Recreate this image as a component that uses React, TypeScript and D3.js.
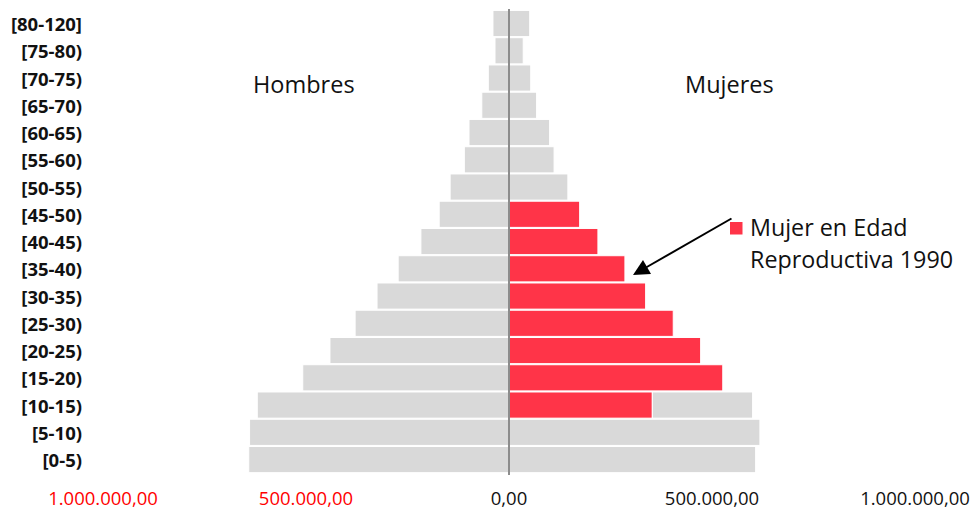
import React from "react";
import * as d3 from "d3";

const categories = [
  "[0-5)", "[5-10)", "[10-15)", "[15-20)", "[20-25)", "[25-30)", "[30-35)", "[35-40)",
  "[40-45)", "[45-50)", "[50-55)", "[55-60)", "[60-65)", "[65-70)", "[70-75)", "[75-80)", "[80-120]",
];
const men = [641000, 639000, 620000, 508000, 441000, 379000, 325000, 273000, 217000, 172000, 145000, 110000, 98500, 67000, 51000, 34500, 39500];
const women = [607500, 618000, 600000, 526500, 472000, 404500, 336500, 285500, 219000, 174000, 145000, 111000, 100000, 68000, 53500, 35000, 51000];
const womenReproductive = [0, 0, 353000, 526500, 472000, 404500, 336500, 285500, 219000, 174000, 0, 0, 0, 0, 0, 0, 0];
const tickValues = [-1000000, -500000, 0, 500000, 1000000];
const tickLabels = ["1.000.000,00", "500.000,00", "0,00", "500.000,00", "1.000.000,00"];
const legendLines = ["Mujer en Edad", "Reproductiva 1990"];

const W = 975;
const H = 509;
const GRAY = "#d9d9d9";
const RED = "#ff3448";
const FONT = "'Open Sans', sans-serif";

export default function App() {
  const x = d3.scaleLinear().domain([-1000000, 1000000]).range([103, 915]);
  const y = d3
    .scaleBand<string>()
    .domain([...categories].reverse())
    .range([9.9, 473.2])
    .paddingInner(0.04)
    .paddingOuter(0.02);
  const bw = y.bandwidth();
  const x0 = x(0);

  return (
    <svg width={W} height={H} style={{ position: "absolute", left: 0, top: 0, background: "#fff" }}>
      <g>
        {categories.map((c, i) => {
          const yy = y(c)!;
          const r = womenReproductive[i];
          return (
            <g key={c}>
              <rect x={x(-men[i])} y={yy} width={x0 - x(-men[i])} height={bw} fill={GRAY} stroke="#fff" strokeWidth={1} />
              {r > 0 && (
                <rect x={x0} y={yy} width={x(r) - x0} height={bw} fill={RED} stroke="#fff" strokeWidth={1} />
              )}
              {women[i] - r > 0 && (
                <rect x={x(r)} y={yy} width={x(women[i]) - x(r)} height={bw} fill={GRAY} stroke="#fff" strokeWidth={1} />
              )}
              <text
                x={82}
                y={yy + bw / 2}
                dominantBaseline="central"
                textAnchor="end"
                fontFamily={FONT}
                fontWeight="bold"
                fontSize={18.5}
                fill="#111"
              >
                {c}
              </text>
            </g>
          );
        })}
      </g>
      <line x1={x0} x2={x0} y1={9} y2={475} stroke="#8c8c8c" strokeWidth={2} />
      {tickValues.map((v, i) => (
        <text
          key={i}
          x={x(v)}
          y={504.5}
          textAnchor="middle"
          fontFamily={FONT}
          fontSize={18.5}
          fill={v < 0 ? "#ff0000" : "#111"}
        >
          {tickLabels[i]}
        </text>
      ))}
      <text x={253} y={93} fontFamily={FONT} fontSize={23.5} fill="#111">Hombres</text>
      <text x={685} y={93} fontFamily={FONT} fontSize={23.5} fill="#111">Mujeres</text>
      <rect x={730} y={222} width={12.5} height={12.5} fill={RED} />
      {legendLines.map((t, i) => (
        <text key={t} x={750} y={235.5 + i * 32.5} fontFamily={FONT} fontSize={23.3} fill="#111">
          {t}
        </text>
      ))}
      <line x1={731.5} y1={218.5} x2={646} y2={267.5} stroke="#000" strokeWidth={2} />
      <path d="M633,275 L643,260 L651,274 Z" fill="#000" />
    </svg>
  );
}
